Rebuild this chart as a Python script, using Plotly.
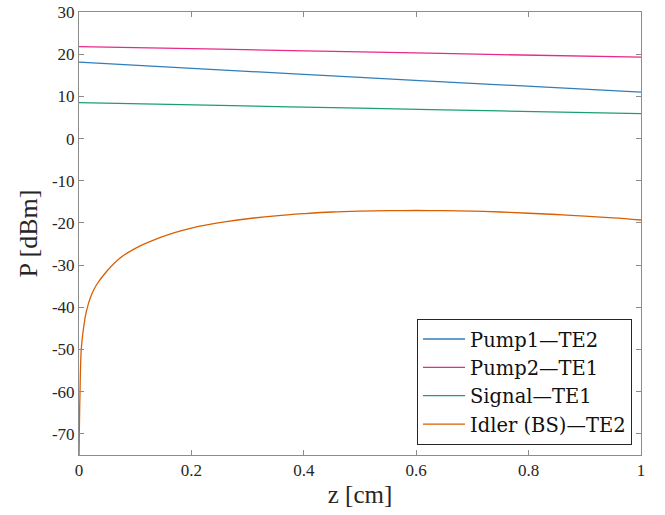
import plotly.graph_objects as go

z_pump = [0.0, 0.25, 0.5, 0.75, 1.0]
pump1 = [18.1, 16.3, 14.5, 12.75, 11.0]
pump2 = [21.8, 21.2, 20.55, 19.9, 19.3]
signal = [8.5, 7.85, 7.2, 6.55, 5.9]

z_idler = [0.0, 0.0005, 0.0018, 0.004, 0.008, 0.013, 0.022, 0.031, 0.049, 0.072,
           0.102, 0.144, 0.17, 0.2, 0.23, 0.262, 0.3, 0.35, 0.4, 0.45, 0.5, 0.55, 0.6,
           0.65, 0.7, 0.75, 0.8, 0.85, 0.9, 0.95, 1.0]
idler = [-76, -70, -60, -50, -45, -41, -37.1, -34.7, -31.5, -28.4,
         -25.9, -23.5, -22.3, -21.2, -20.4, -19.7, -19.0, -18.3, -17.8, -17.4, -17.2,
         -17.1, -17.05, -17.1, -17.2, -17.4, -17.7, -18.0, -18.4, -18.8, -19.3]

y_ticks = [30, 20, 10, 0, -10, -20, -30, -40, -50, -60, -70]
y_tick_text = ["30", "20", "10", "0", "-10", "-20", "-30", "-40", "-50", "-60", "-70"]
x_ticks = [0, 0.2, 0.4, 0.6, 0.8, 1]
x_tick_text = ["0", "0.2", "0.4", "0.6", "0.8", "1"]

names = ["Pump1—TE2", "Pump2—TE1", "Signal—TE1", "Idler (BS)—TE2"]
colors = ["#2f7ebc", "#e7298a", "#1b9e77", "#d95f02"]

fig = go.Figure()
for name, xs, ys, c in zip(names, [z_pump, z_pump, z_pump, z_idler],
                           [pump1, pump2, signal, idler], colors):
    fig.add_trace(go.Scatter(x=xs, y=ys, mode="lines", name=name,
                             line=dict(color=c, width=1.3, shape="spline", smoothing=1.0)))

font_fam = "Liberation Serif, DejaVu Serif, serif"
axis_common = dict(showline=True, linecolor="#8c8c8c", linewidth=1, mirror="ticks",
                   ticks="inside", ticklen=5, tickcolor="#8c8c8c", showgrid=False,
                   zeroline=False, automargin=False,
                   tickfont=dict(family=font_fam, size=17, color="#262626"))

fig.update_layout(
    width=665, height=515,
    margin=dict(l=79, r=24, t=12, b=60),
    paper_bgcolor="white", plot_bgcolor="white",
    font=dict(family=font_fam, color="#262626"),
    xaxis=dict(range=[0, 1], tickvals=x_ticks, ticktext=x_tick_text,
               title=dict(text="z [cm]", font=dict(size=25, family=font_fam), standoff=6),
               **axis_common),
    yaxis=dict(range=[-75, 30], tickvals=y_ticks, ticktext=y_tick_text,
               title=dict(text="P [dBm]", font=dict(size=26, family=font_fam), standoff=6),
               **axis_common),
    legend=dict(x=0.984, y=0.023, xanchor="right", yanchor="bottom",
                bgcolor="white", bordercolor="#262626", borderwidth=1,
                font=dict(family="DejaVu Serif, serif", size=19.5, color="#111111"),
                tracegroupgap=0, itemwidth=42),
    showlegend=True,
)

fig.write_html("out.html", config={"displayModeBar": False},
               post_script="document.body.style.margin='0';document.body.style.padding='0';")
